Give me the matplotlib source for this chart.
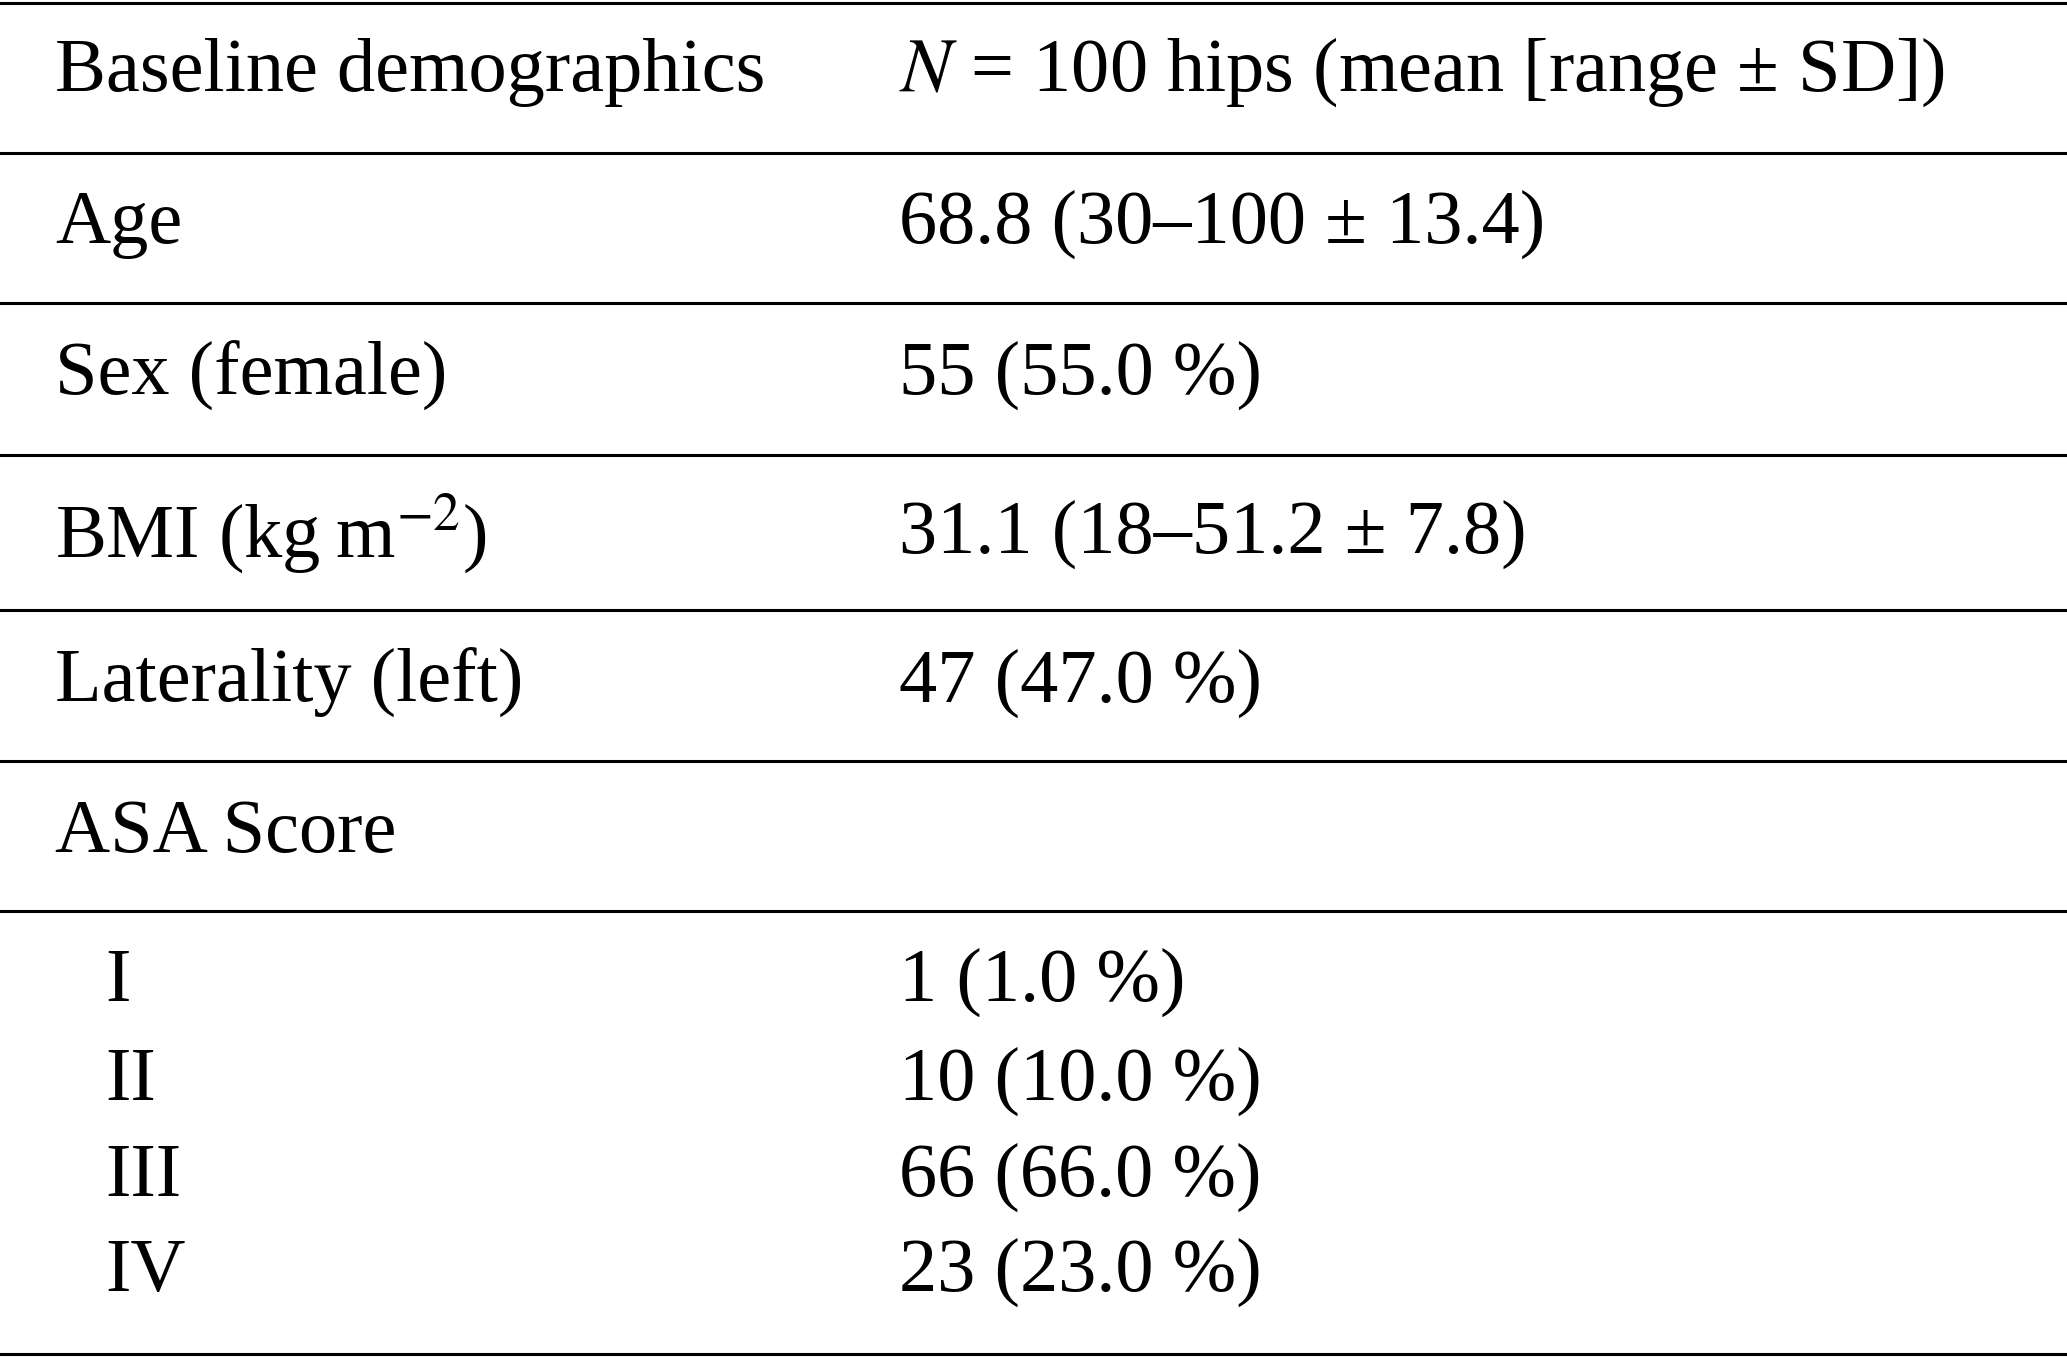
import matplotlib
matplotlib.use("Agg")
import matplotlib.pyplot as plt

plt.rcParams['font.family'] = ['Liberation Serif', 'DejaVu Serif']
plt.rcParams['mathtext.fontset'] = 'stix'

header = ["Baseline demographics", "$N$ = 100 hips (mean [range ± SD])"]
labels = ["Age", "Sex (female)", "BMI (kg\u2009m$^{-2}$)", "Laterality (left)", "ASA Score"]
values = ["68.8 (30–100 ± 13.4)", "55 (55.0 %)", "31.1 (18–51.2 ± 7.8)", "47 (47.0 %)", ""]
asa_labels = ["I", "II", "III", "IV"]
asa_values = ["1 (1.0 %)", "10 (10.0 %)", "66 (66.0 %)", "23 (23.0 %)"]

W, H = 1568, 1030
fig = plt.figure(figsize=(20.67, 13.58), dpi=100)
ax = fig.add_axes([0, 0, 1, 1])
ax.set_xlim(0, W); ax.set_ylim(H, 0); ax.axis('off')

for y in [2, 116, 230, 345, 463, 577, 691, 1027]:
    ax.plot([0, W], [y, y], color='black', lw=2.2)

fs = 55
x1, x2, xs = 42, 682, 80
ax.text(x1, 55, header[0], fontsize=fs, va='center')
ax.text(x2, 55, header[1], fontsize=fs, va='center')
for y, l, v in zip([170, 285, 405, 518, 632], labels, values):
    ax.text(x1, y, l, fontsize=fs, va='center')
    ax.text(x2, y, v, fontsize=fs, va='center')
for y, l, v in zip([745, 820, 893, 965], asa_labels, asa_values):
    ax.text(xs, y, l, fontsize=fs, va='center')
    ax.text(x2, y, v, fontsize=fs, va='center')

fig.savefig("out.png", dpi=100)
